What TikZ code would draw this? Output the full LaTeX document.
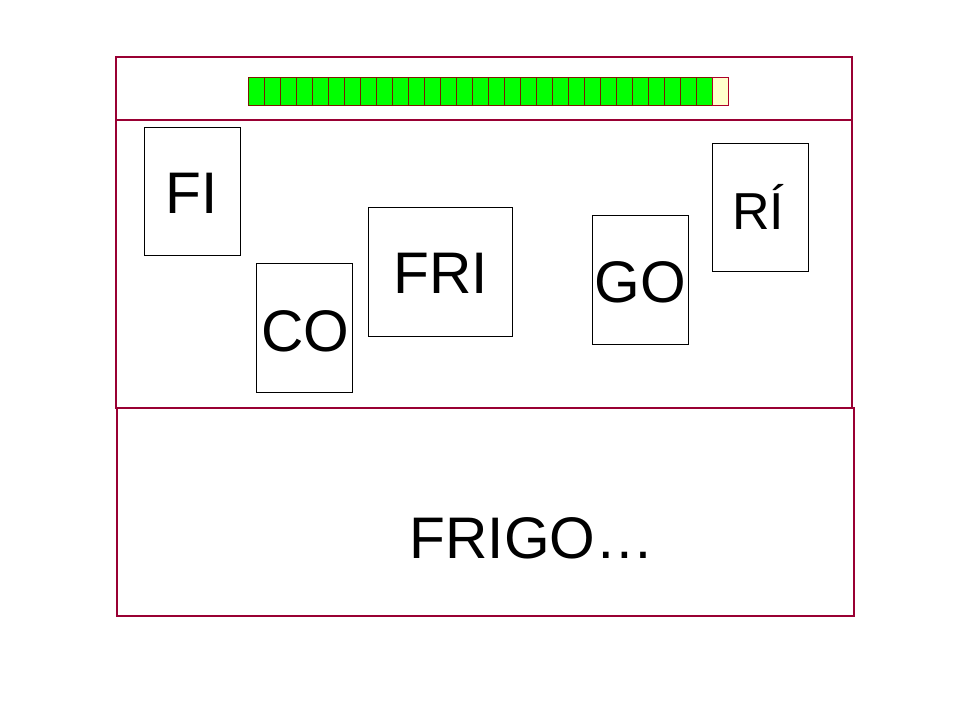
\documentclass[tikz,border=0pt]{standalone}
\usepackage{fontspec}
\setmainfont{Liberation Sans}
\definecolor{frame}{HTML}{990033}
\definecolor{cellgreen}{HTML}{00FF00}
\definecolor{cellcream}{HTML}{FFFFCC}
\definecolor{cellline}{HTML}{7A1A00}
\tikzset{
  panel/.style={draw=frame, line width=2.2pt},
  card/.style={draw=black, line width=0.75pt, inner sep=0pt, minimum width=72pt, minimum height=96pt},
  word/.style={anchor=base, inner sep=0pt, font=\fontsize{44}{48}\selectfont},
  cell/.style={draw=cellline, line width=0.6pt, fill=cellgreen, inner sep=0pt, minimum width=12pt, minimum height=21pt},
}
\begin{document}
\begin{tikzpicture}[x=0.75pt, y=-0.75pt]
\useasboundingbox (0,0) rectangle (960,720);
% panels
\draw[panel] (116,57) rectangle (852,408);
\draw[panel] (117,408) rectangle (854,616);
\draw[panel] (116,120) -- (852,120);
% progress bar
\foreach \i in {0,...,28} {
  \node[cell] (c\i) at ({256+16*\i},91) {};
}
\node[cell, fill=cellcream, draw=frame!80!red] (c29) at (720,91) {};
% cards
\node[card] (fi) at (192,192) {};
\node[card] (co) at (304,328) {};
\node[card, minimum width=108pt] (fri) at (440,272) {};
\node[card] (go) at (640,280) {};
\node[card] (ri) at (760,208) {};
% words
\node[word] (fitxt) at (192,214) {FI};
\node[word] (cotxt) at (305,351) {CO};
\node[word] (fritxt) at (441,294) {FRI};
\node[word] (gotxt) at (640,302) {GO};
\node[word, font=\fontsize{39}{44}\selectfont] (ritxt) at (758,230) {RÍ};
\node[word] (frigo) at (532,558) {FRIGO…};
\end{tikzpicture}
\end{document}
